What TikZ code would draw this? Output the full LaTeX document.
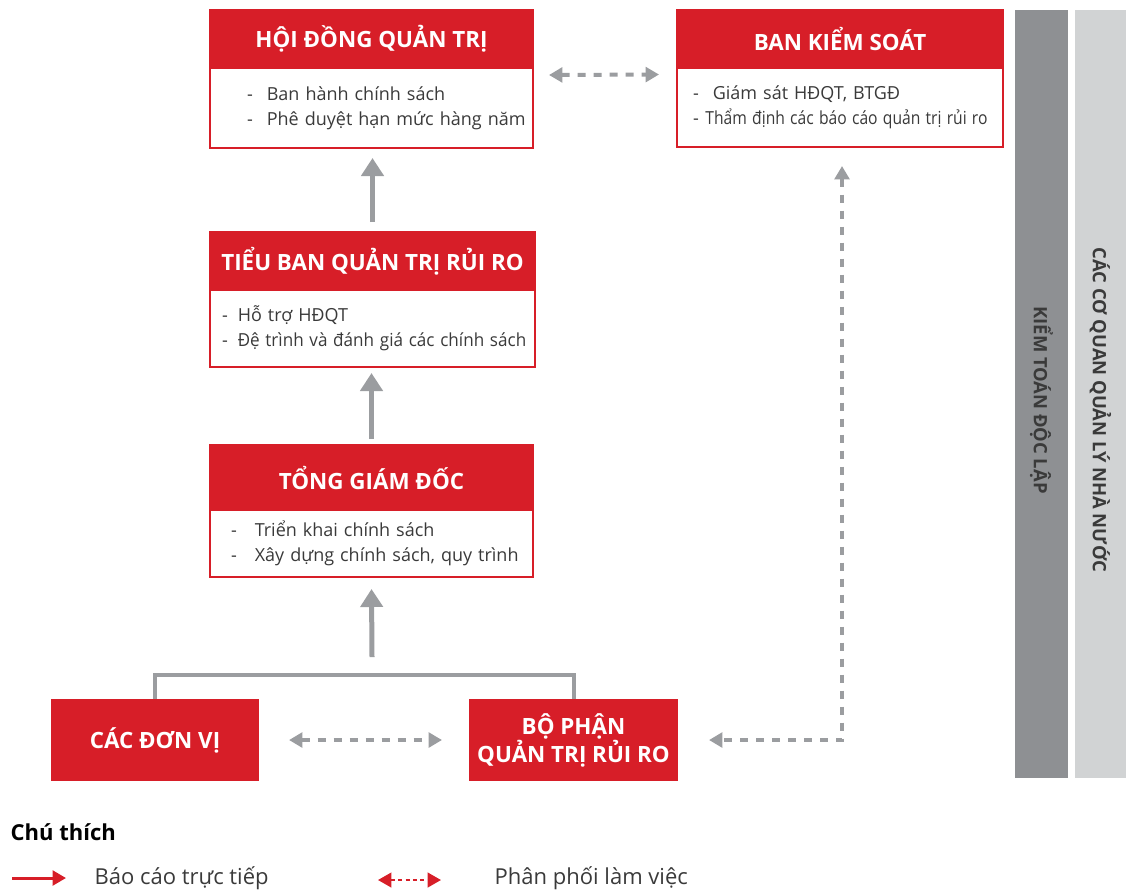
\documentclass[tikz,border=0pt]{standalone}
\usepackage{fontspec}
\setmainfont{Open Sans}
\usepackage{graphicx}
\usepackage{xcolor}
\usepackage{tikz}
\usetikzlibrary{arrows.meta}

\definecolor{tsRed}{HTML}{D71E28}
\definecolor{tsArrowGray}{HTML}{9B9DA0}
\definecolor{tsDarkGray}{HTML}{8E9093}
\definecolor{tsLightGray}{HTML}{D1D3D4}
\definecolor{tsText}{HTML}{3A3A3A}

\newcommand{\tsItem}[3]{\mbox{\hspace*{#1}-\hspace*{#2}#3}}

\tikzstyle{tsTitle} = [
    text=white,
    font=\bfseries\fontsize{16.8}{21}\selectfont
]
\tikzstyle{tsHead} = [
    rectangle,
    tsTitle,
    fill=tsRed,
    draw=tsRed,
    line width=1.5pt,
    inner sep=0pt,
    align=center
]
\tikzstyle{tsBody} = [
    rectangle,
    draw=tsRed,
    fill=white,
    line width=1.5pt,
    inner sep=0pt,
    align=left,
    text=tsText,
    font=\fontsize{13.5}{18.75}\selectfont
]
\tikzstyle{tsBar} = [
    rectangle,
    inner sep=0pt,
    text=tsText,
    font=\bfseries\fontsize{13.8}{16}\selectfont
]
\tikzstyle{tsArrow} = [
    draw=tsArrowGray,
    line width=3.75pt,
    -{Triangle[width=16.5pt,length=13.5pt]}
]
\tikzstyle{tsDashArrow} = [
    draw=tsArrowGray,
    line width=3pt,
    dash pattern=on 6pt off 6pt,
    {Triangle[width=11pt,length=10pt]}-{Triangle[width=11pt,length=10pt]}
]
\tikzstyle{tsBracket} = [
    draw=tsArrowGray,
    line width=3pt
]
\tikzstyle{tsLegend} = [
    anchor=west,
    text=tsText,
    font=\fontsize{16.5}{19}\selectfont
]

\begin{document}
\begin{tikzpicture}[x=0.75pt, y=-0.75pt]

    \useasboundingbox (0,0) rectangle (1126,894);

    % hoi dong quan tri
    \node[ tsHead,
            minimum width=242.25pt,
            minimum height=43.5pt] (hdqtHead) at (371.5,39) {HỘI ĐỒNG QUẢN TRỊ};
    \node[ tsBody,
            minimum height=60pt,
            text width=242.25pt] (hdqtBody) at (371.5,108)
            {\tsItem{27.75pt}{10.5pt}{Ban hành chính sách}\\\tsItem{27.75pt}{10.5pt}{Phê duyệt hạn mức hàng năm}};

    % ban kiem soat
    \node[ tsHead,
            minimum width=244.5pt,
            minimum height=43.5pt] (bksHead) at (840,39) {BAN KIỂM SOÁT};
    \node[ tsBody,
            minimum height=59.25pt,
            text width=244.5pt] (bksBody) at (840,107.5)
            {\tsItem{12pt}{10.5pt}{Giám sát HĐQT, BTGĐ}\\\tsItem{12pt}{5pt}{\scalebox{0.87}[1]{Thẩm định các báo cáo quản trị rủi ro}}};

    % tieu ban
    \node[ tsHead,
            minimum width=243.75pt,
            minimum height=43.5pt] (tbHead) at (372.5,261) {TIỂU BAN QUẢN TRỊ RỦI RO};
    \node[ tsBody,
            minimum height=57.75pt,
            text width=243.75pt] (tbBody) at (372.5,328.5)
            {\tsItem{9pt}{7.5pt}{Hỗ trợ HĐQT}\\\tsItem{9pt}{7.5pt}{\scalebox{0.95}[1]{Đệ trình và đánh giá các chính sách}}};

    % tong giam doc
    \node[ tsHead,
            minimum width=242.25pt,
            minimum height=48.75pt] (tgdHead) at (371.5,477.5) {TỔNG GIÁM ĐỐC};
    \node[ tsBody,
            minimum height=50.25pt,
            text width=242.25pt] (tgdBody) at (371.5,543.5)
            {\tsItem{15.75pt}{13.5pt}{Triển khai chính sách}\\\tsItem{15.75pt}{13.5pt}{Xây dựng chính sách, quy trình}};

    % bottom row
    \node[ tsHead,
            minimum width=154.5pt,
            minimum height=60pt] (dv) at (155,740) {CÁC ĐƠN VỊ};
    \node[ tsHead,
            minimum width=155.25pt,
            minimum height=60pt] (bp) at (573.5,740) {BỘ PHẬN\\QUẢN TRỊ RỦI RO};

    % side bars
    \node[ tsBar,
            fill=tsDarkGray,
            rotate=-90,
            minimum width=576pt,
            minimum height=39.75pt] (ktdl) at (1041.5,394) {\hspace*{9pt}KIỂM TOÁN ĐỘC LẬP};
    \node[ tsBar,
            fill=tsLightGray,
            rotate=-90,
            minimum width=576pt,
            minimum height=38.25pt] (cqql) at (1100.5,394) {\hspace*{24pt}CÁC CƠ QUAN QUẢN LÝ NHÀ NƯỚC};

    % connectors
    \coordinate (brTop) at (372,675);
    \draw[tsBracket] (dv.north) |- (brTop) -| (bp.north);
    \draw[tsArrow] ([shift={(0,-18)}]brTop) -- ([shift={(0,11)}]tgdBody.south);
    \draw[tsArrow] ([shift={(0,-5)}]tgdHead.north) -- ([shift={(0,5)}]tbBody.south -| tgdHead.north);
    \draw[tsArrow] ([shift={(0,-9)}]tbHead.north) -- ([shift={(0,9)}]hdqtBody.south -| tbHead.north);

    \draw[tsDashArrow] ([shift={(15,-33)}]hdqtBody.east) -- ([shift={(-17,-33)}]bksBody.west);
    \draw[tsDashArrow] ([shift={(30,0)}]dv.east) -- ([shift={(-27,0)}]bp.west);
    \draw[tsDashArrow] ([shift={(2,18)}]bksBody.south) |- ([shift={(31,0)}]bp.east);

    % legend
    \node[ tsLegend,
            text=black,
            font=\bfseries\fontsize{16.5}{19}\selectfont] (legTitle) at (6,832) {Chú thích};
    \node[ tsLegend] (legDirect) at (90,878) {Báo cáo trực tiếp};
    \node[ tsLegend] (legWork) at (490,878) {Phân phối làm việc};
    \coordinate (legA1) at (12,878);
    \coordinate (legA2) at (66,878);
    \coordinate (legB1) at (378,880);
    \coordinate (legB2) at (441,880);
    \draw[draw=tsRed, line width=2.25pt, -{Triangle[width=11pt,length=10pt]}] (legA1) -- (legA2);
    \draw[draw=tsRed, line width=1.5pt, dash pattern=on 3pt off 2.5pt,
          {Triangle[width=11pt,length=10pt]}-{Triangle[width=11pt,length=10pt]}] (legB1) -- (legB2);

\end{tikzpicture}
\end{document}
